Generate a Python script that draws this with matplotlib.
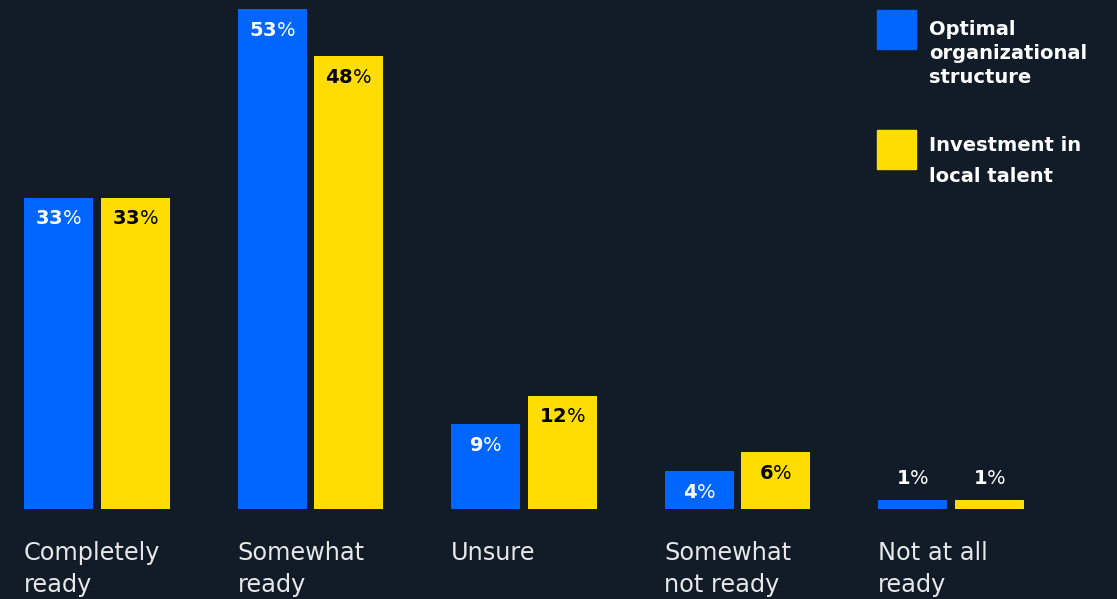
import numpy as np
import matplotlib.pyplot as plt

categories = ["Completely\nready", "Somewhat\nready", "Unsure", "Somewhat\nnot ready", "Not at all\nready"]
structure = [33, 53, 9, 4, 1]
talent = [33, 48, 12, 6, 1]
series_names = ["Optimal\norganizational\nstructure", "Investment in\nlocal talent"]

BG = "#111c28"
BLUE = "#0066ff"
YELLOW = "#ffdd00"
FONT = "DejaVu Sans"

plt.rcParams["font.family"] = FONT
plt.rcParams["mathtext.fontset"] = "custom"
plt.rcParams["mathtext.bf"] = FONT + ":bold"
plt.rcParams["mathtext.rm"] = FONT

W, H = 1117, 599
STEP = 213.5  # pixels between groups
fig = plt.figure(figsize=(W / 100, H / 100), dpi=100, facecolor=BG)
# plot area: baseline 90px above the bottom, 53% reaches 9px from the top
ax = fig.add_axes([0, 90 / H, 1, 500 / H])
ax.set_facecolor(BG)
ax.set_ylim(0, 53)
ax.set_xlim(-97 / STEP, (W - 97) / STEP)
ax.axis("off")

x = np.arange(len(categories))
bw = 69 / STEP
off = 38.25 / STEP

b1 = ax.bar(x - off, structure, bw, color=BLUE)
b2 = ax.bar(x + off, talent, bw, color=YELLOW)


def label(bars, vals, inner_color):
    for rect, v in zip(bars, vals):
        cx = rect.get_x() + rect.get_width() / 2
        txt = r"$\mathbf{%d}$%%" % v
        if v < 2:
            dy, col = 21, "white"
        else:
            dy, col = -21, inner_color
        ax.annotate(txt, (cx, v), xytext=(0, dy), textcoords="offset pixels",
                    ha="center", va="center", color=col, fontsize=14)


label(b1, structure, "white")
label(b2, talent, "black")

# category names under each group, left aligned with the blue bar
for i, cat in enumerate(categories):
    px = 24 + STEP * i
    fig.text(px / W, 1 - 541 / H, cat, ha="left", va="top", color="#e8e8e8",
             fontsize=17.3, linespacing=1.42)

# legend squares and captions
for col, name, sq_top, txt_top, ls in [(BLUE, series_names[0], 10, 20, 1.32),
                                        (YELLOW, series_names[1], 130, 136, 1.78)]:
    fig.patches.append(plt.Rectangle((877 / W, 1 - (sq_top + 39) / H), 39 / W, 39 / H,
                                     transform=fig.transFigure, color=col))
    fig.text(929 / W, 1 - txt_top / H, name, ha="left", va="top", color="white",
             fontsize=14, fontweight="semibold", linespacing=ls)

fig.savefig("out.png", dpi=100, facecolor=BG)
